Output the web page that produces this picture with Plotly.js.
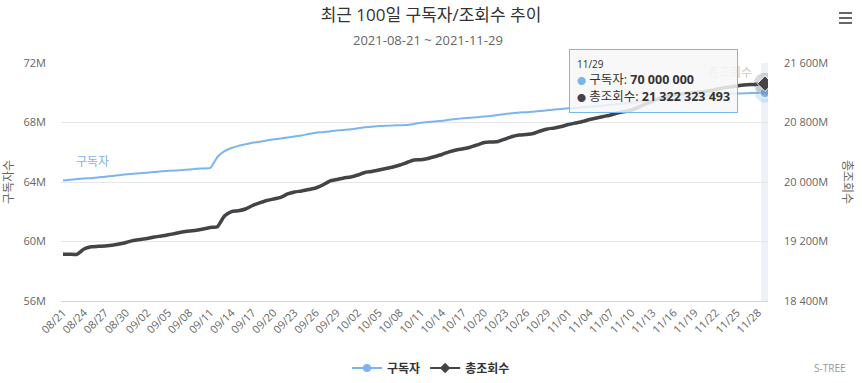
<!DOCTYPE html>
<html>
<head>
<meta charset="utf-8">
<script src="https://cdn.plot.ly/plotly-3.0.1.min.js"></script>
<style>
  html, body { margin: 0; padding: 0; background: #fff; }
  #chart { width: 862px; height: 383px; }
</style>
</head>
<body>
<div id="chart"></div>
<script>
// ---- data ----
const categories = [
  "08/21","08/22","08/23","08/24","08/25","08/26","08/27","08/28","08/29","08/30","08/31",
  "09/01","09/02","09/03","09/04","09/05","09/06","09/07","09/08","09/09","09/10",
  "09/11","09/12","09/13","09/14","09/15","09/16","09/17","09/18","09/19","09/20",
  "09/21","09/22","09/23","09/24","09/25","09/26","09/27","09/28","09/29","09/30",
  "10/01","10/02","10/03","10/04","10/05","10/06","10/07","10/08","10/09","10/10",
  "10/11","10/12","10/13","10/14","10/15","10/16","10/17","10/18","10/19","10/20",
  "10/21","10/22","10/23","10/24","10/25","10/26","10/27","10/28","10/29","10/30","10/31",
  "11/01","11/02","11/03","11/04","11/05","11/06","11/07","11/08","11/09","11/10",
  "11/11","11/12","11/13","11/14","11/15","11/16","11/17","11/18","11/19","11/20",
  "11/21","11/22","11/23","11/24","11/25","11/26","11/27","11/28","11/29"
];
const tickLabels = [
  "08/21","08/24","08/27","08/30","09/02","09/05","09/08","09/11","09/14","09/17",
  "09/20","09/23","09/26","09/29","10/02","10/05","10/08","10/11","10/14","10/17",
  "10/20","10/23","10/26","10/29","11/01","11/04","11/07","11/10","11/13","11/16",
  "11/19","11/22","11/25","11/28"
];
// subscribers, in millions
const subscribers = [
  64.10,64.15,64.20,64.24,64.26,64.30,64.36,64.40,64.46,64.52,64.55,64.59,64.63,64.67,64.73,64.75,64.77,64.81,64.84,64.89,
  64.91,64.95,65.68,66.08,66.29,66.43,66.54,66.64,66.70,66.79,66.87,66.92,66.99,67.06,67.13,67.23,67.31,67.35,67.40,67.46,
  67.50,67.54,67.62,67.68,67.72,67.76,67.78,67.80,67.82,67.83,67.90,67.98,68.03,68.07,68.11,68.18,68.24,68.28,68.32,68.36,
  68.40,68.44,68.50,68.57,68.62,68.67,68.69,68.73,68.77,68.82,68.87,68.91,68.95,68.97,69.02,69.06,69.10,69.14,69.19,69.24,
  69.28,69.32,69.38,69.43,69.47,69.51,69.56,69.61,69.66,69.70,69.74,69.78,69.82,69.86,69.89,69.93,69.95,69.96,69.98,69.99,
  70.00
];
// total views, in millions
const totalViews = [
  19028,19028,19028,19099,19129,19135,19140,19149,19166,19187,19214,19227,19240,19261,19274,19290,19308,19328,19341,19351,
  19368,19388,19399,19543,19603,19614,19637,19684,19718,19751,19771,19792,19839,19866,19879,19899,19919,19960,20013,20034,
  20054,20067,20094,20128,20141,20161,20181,20202,20229,20262,20296,20299,20316,20343,20370,20406,20430,20446,20467,20498,
  20531,20538,20545,20578,20612,20632,20639,20652,20686,20713,20726,20746,20773,20793,20813,20840,20861,20881,20901,20928,
  20948,20968,21008,21049,21089,21123,21156,21170,21183,21193,21203,21210,21224,21244,21264,21277,21291,21304,21311,21314,
  21322.323493
];
const leftTicks = [56, 60, 64, 68, 72];
const leftTickText = ["56M", "60M", "64M", "68M", "72M"];
const rightTicks = [18400, 19200, 20000, 20800, 21600];
const rightTickText = ["18 400M", "19 200M", "20 000M", "20 800M", "21 600M"];
const seriesNames = ["구독자", "총조회수"];
const tooltipDate = "11/29";
const tooltipSubs = "70 000 000";
const tooltipViews = "21 322 323 493";

// ---- style ----
const BLUE = "#7cb5ec";
const DARK = "#434348";
const FONT = '"Open Sans", "Noto Sans CJK KR", sans-serif';
const last = categories.length - 1;

const traces = [
  { x: categories, y: subscribers, type: "scatter", mode: "lines", yaxis: "y",
    line: { color: BLUE, width: 2, shape: "spline", smoothing: 0.5 }, showlegend: false, hoverinfo: "skip" },
  { x: categories, y: totalViews, type: "scatter", mode: "lines", yaxis: "y2",
    line: { color: DARK, width: 3.5, shape: "spline", smoothing: 0.5 }, showlegend: false, hoverinfo: "skip" },
  // highlighted last points (halo + marker)
  { x: [categories[last]], y: [subscribers[last]], type: "scatter", mode: "markers", yaxis: "y",
    marker: { color: "rgba(124,181,236,0.25)", size: 20, line: { width: 0 } }, showlegend: false, hoverinfo: "skip" },
  { x: [categories[last]], y: [subscribers[last]], type: "scatter", mode: "markers", yaxis: "y",
    marker: { color: BLUE, size: 10, line: { color: "#ffffff", width: 1 } }, showlegend: false, hoverinfo: "skip" },
  { x: [categories[last]], y: [totalViews[last]], type: "scatter", mode: "markers", yaxis: "y2",
    marker: { color: "rgba(67,67,72,0.2)", size: 22, line: { width: 0 } }, showlegend: false, hoverinfo: "skip" },
  { x: [categories[last]], y: [totalViews[last]], type: "scatter", mode: "markers", yaxis: "y2",
    marker: { color: DARK, symbol: "diamond", size: 12, line: { color: "#ffffff", width: 1 } }, showlegend: false, hoverinfo: "skip" },
  // legend entries
  { x: [null], y: [null], type: "scatter", mode: "lines+markers", name: seriesNames[0], yaxis: "y",
    line: { color: BLUE, width: 2 }, marker: { color: BLUE, size: 8, symbol: "circle" } },
  { x: [null], y: [null], type: "scatter", mode: "lines+markers", name: seriesNames[1], yaxis: "y2",
    line: { color: DARK, width: 2 }, marker: { color: DARK, size: 8, symbol: "diamond" } }
];

const L = 61, R = 768, T = 63, B = 301;
const px = v => (v - L) / (R - L);
const py = v => (B - v) / (B - T);

const layout = {
  width: 862, height: 383,
  margin: { l: L, r: 862 - R, t: T, b: 383 - B, pad: 0, autoexpand: false },
  paper_bgcolor: "#ffffff", plot_bgcolor: "#ffffff",
  font: { family: FONT, color: "#666666", size: 11 },
  hovermode: false,
  title: { text: "최근 100일 구독자/조회수 추이", x: 0.5, xref: "container", xanchor: "center",
           y: 1 - 15 / 383, yref: "container", yanchor: "middle",
           font: { family: FONT, size: 17, color: "#333333" } },
  xaxis: {
    type: "category", categoryorder: "array", categoryarray: categories,
    range: [-0.285, 100.43], tickmode: "array", tickvals: tickLabels, ticktext: tickLabels,
    tickangle: -45, tickfont: { size: 11, color: "#666666" }, showgrid: false, zeroline: false,
    showline: true, linecolor: "#ccd6eb", linewidth: 1, ticks: "", fixedrange: true
  },
  yaxis: {
    range: [56, 72], tickmode: "array", tickvals: leftTicks, ticktext: leftTickText,
    tickfont: { size: 11, color: "#666666" },
    showgrid: true, gridcolor: "#e6e6e6", gridwidth: 1, zeroline: false, ticks: "",
    ticklabelstandoff: 14, fixedrange: true
  },
  yaxis2: {
    overlaying: "y", side: "right", range: [18400, 21600], tickmode: "array",
    tickvals: rightTicks, ticktext: rightTickText, tickfont: { size: 11, color: "#666666" },
    showgrid: false, zeroline: false, ticks: "", ticklabelstandoff: 15, fixedrange: true
  },
  legend: { orientation: "h", x: 431 / 862, xref: "container", xanchor: "center",
            y: 1 - 368 / 383, yref: "container", yanchor: "middle",
            font: { family: FONT, size: 12, color: "#333333", weight: "bold" },
            itemwidth: 30, bgcolor: "rgba(0,0,0,0)", tracegroupgap: 0 },
  shapes: [
    { type: "rect", xref: "x", yref: "paper", x0: 99.45, x1: 100.43, y0: 0, y1: 1,
      fillcolor: "rgba(204,214,235,0.35)", line: { width: 0 }, layer: "below" },
    { type: "line", xref: "paper", yref: "paper", x0: px(839), x1: px(852), y0: py(13), y1: py(13), line: { color: "#666666", width: 2 } },
    { type: "line", xref: "paper", yref: "paper", x0: px(839), x1: px(852), y0: py(18), y1: py(18), line: { color: "#666666", width: 2 } },
    { type: "line", xref: "paper", yref: "paper", x0: px(839), x1: px(852), y0: py(23), y1: py(23), line: { color: "#666666", width: 2 } }
  ],
  annotations: [
    { text: "2021-08-21 ~ 2021-11-29", xref: "paper", yref: "paper", x: px(428), y: py(40),
      xanchor: "center", yanchor: "middle", showarrow: false, font: { size: 13, color: "#666666" } },
    { text: "구독자수", xref: "paper", yref: "paper", x: px(8), y: 0.5, textangle: -90,
      xanchor: "center", yanchor: "middle", showarrow: false, font: { size: 12, color: "#666666" } },
    { text: "총조회수", xref: "paper", yref: "paper", x: px(848), y: 0.5, textangle: 90,
      xanchor: "center", yanchor: "middle", showarrow: false, font: { size: 12, color: "#666666" } },
    { text: seriesNames[0], xref: "paper", yref: "paper", x: px(92), y: py(161),
      xanchor: "center", yanchor: "middle", showarrow: false, font: { size: 12, color: BLUE } },
    { text: seriesNames[1], xref: "paper", yref: "paper", x: px(730), y: py(72),
      xanchor: "center", yanchor: "middle", showarrow: false, font: { size: 12, color: "#cccccc" } },
    { text: '<span style="font-size:10px">' + tooltipDate + '</span><br>' +
            '<span style="color:' + BLUE + ';font-size:9px">●</span> ' + seriesNames[0] + ': <b>' + tooltipSubs + '</b><br>' +
            '<span style="color:' + DARK + ';font-size:9px">●</span> ' + seriesNames[1] + ': <b>' + tooltipViews + '</b>',
      xref: "paper", yref: "paper", x: px(569), y: py(49), xanchor: "left", yanchor: "top",
      align: "left", showarrow: false, bgcolor: "rgba(247,247,247,0.85)", bordercolor: BLUE,
      borderwidth: 1, borderpad: 7, font: { size: 12.5, color: "#333333" } },
    { text: "S-TREE", xref: "paper", yref: "paper", x: px(830), y: py(368),
      xanchor: "center", yanchor: "middle", showarrow: false, font: { size: 10, color: "#999999" } }
  ]
};

Plotly.newPlot("chart", traces, layout, { displayModeBar: false, staticPlot: true });
</script>
</body>
</html>
